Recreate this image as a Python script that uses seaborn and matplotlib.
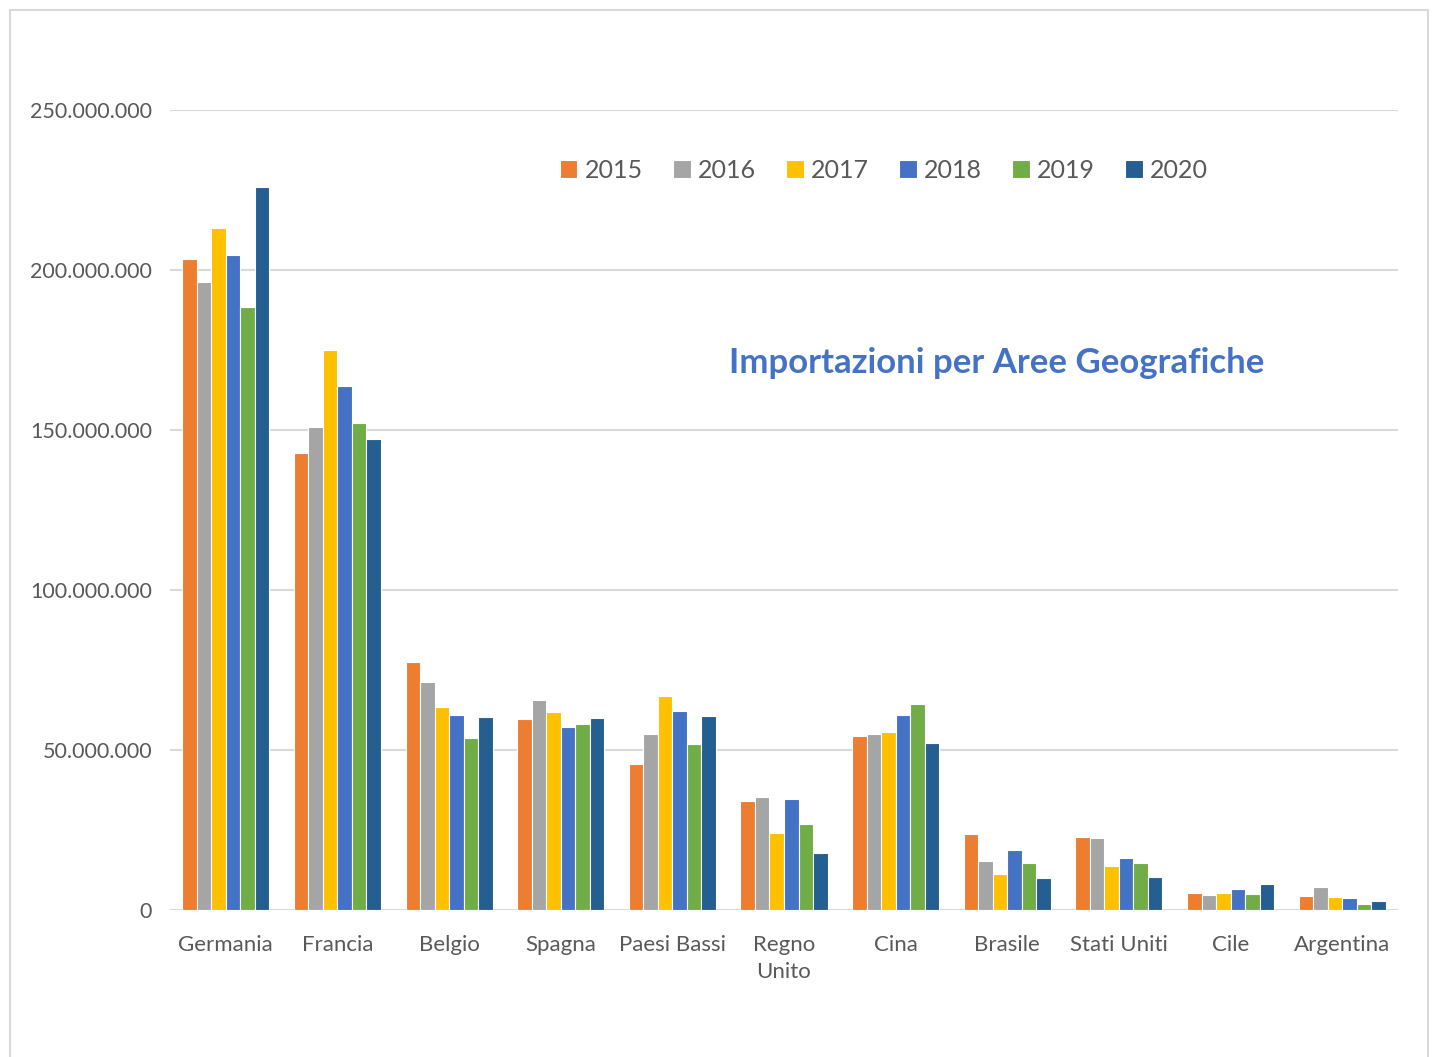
import numpy as np
import pandas as pd
import matplotlib
matplotlib.use('Agg')
import matplotlib.pyplot as plt
import matplotlib.ticker as mticker
from matplotlib.patches import Rectangle
import seaborn as sns

# data (values in euro)
paesi = ['Germania', 'Francia', 'Belgio', 'Spagna', 'Paesi Bassi', 'Regno\nUnito',
         'Cina', 'Brasile', 'Stati Uniti', 'Cile', 'Argentina']
anni = ['2015', '2016', '2017', '2018', '2019', '2020']

v2015 = [203.3, 142.8, 77.5, 59.6, 45.5, 34.1, 54.3, 23.6, 22.9, 5.3, 4.5]
v2016 = [196.1, 150.9, 71.1, 65.7, 54.9, 35.2, 55.0, 15.3, 22.4, 4.6, 7.2]
v2017 = [213.2, 175.0, 63.3, 61.9, 66.8, 24.0, 55.7, 11.1, 13.8, 5.3, 4.0]
v2018 = [204.7, 163.6, 60.8, 57.1, 62.2, 34.7, 60.8, 18.6, 16.1, 6.5, 3.6]
v2019 = [188.4, 152.1, 53.8, 58.0, 51.8, 26.8, 64.4, 14.6, 14.8, 5.0, 1.9]
v2020 = [225.9, 147.2, 60.2, 59.9, 60.5, 17.7, 52.1, 10.0, 10.2, 8.1, 2.8]

colori = ['#ED7D31', '#A5A5A5', '#FFC000', '#4472C4', '#70AD47', '#255E91']

series = [v2015, v2016, v2017, v2018, v2019, v2020]
rows = []
for anno, vals in zip(anni, series):
    for paese, v in zip(paesi, vals):
        rows.append({'paese': paese, 'anno': anno, 'valore': v * 1e6})
df = pd.DataFrame(rows)

sns.set_style('white')
plt.rcParams['font.family'] = ['Lato', 'DejaVu Sans']

fig = plt.figure(figsize=(14.34, 10.57), dpi=100)
ax = fig.add_axes([170 / 1434, 1 - 910 / 1057, 1228 / 1434, 800 / 1057])

sns.barplot(data=df, x='paese', y='valore', hue='anno', palette=colori, saturation=1,
            width=0.78, edgecolor='white', linewidth=0.8, ax=ax, zorder=3)

ax.set_ylim(0, 250e6)
ax.set_xlim(-0.5, len(paesi) - 0.5)
ax.yaxis.set_major_locator(mticker.MultipleLocator(50e6))
ax.yaxis.set_major_formatter(mticker.FuncFormatter(lambda v, p: '{:,.0f}'.format(v).replace(',', '.')))
ax.grid(axis='y', color='#D9D9D9', linewidth=1.5, zorder=0)
ax.set_axisbelow(True)
for s in ax.spines.values():
    s.set_visible(False)
ax.set_xlabel('')
ax.set_ylabel('')
ax.tick_params(axis='y', length=0, labelsize=15.5, colors='#595959', pad=13)
ax.tick_params(axis='x', length=0, labelsize=16, colors='#595959', pad=18)
for lab in ax.get_xticklabels():
    lab.set_linespacing(1.45)

handles, labels = ax.get_legend_handles_labels()
ax.legend(handles, labels, loc='center', bbox_to_anchor=(884 / 1434, 1 - 170 / 1057),
          bbox_transform=fig.transFigure, ncol=6, frameon=False, fontsize=18,
          handlelength=0.7, handleheight=0.7, handletextpad=0.3, columnspacing=1.2,
          labelcolor='#595959')

fig.text(997 / 1434, 1 - 363 / 1057, 'Importazioni per Aree Geografiche',
         ha='center', va='center', fontsize=25, fontweight='bold', color='#4472C4')

# chart border
fig.patches.append(Rectangle((10 / 1434, -0.01), 1418 / 1434, 1 - 10 / 1057 + 0.01,
                             transform=fig.transFigure, fill=False,
                             edgecolor='#D9D9D9', linewidth=1.5))

fig.savefig('out.png', dpi=100)
